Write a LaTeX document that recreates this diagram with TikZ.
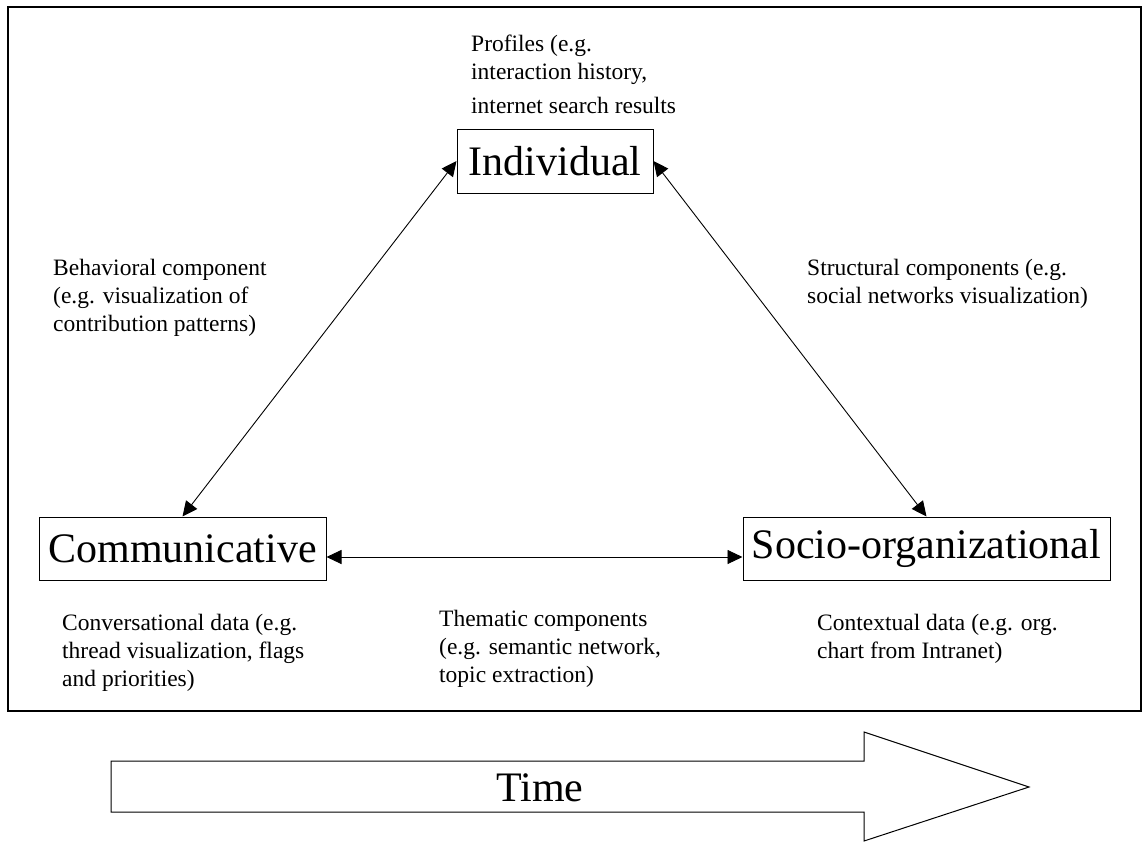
\documentclass[tikz,border=0pt]{standalone}
\usepackage{fontspec}
\setmainfont{Liberation Serif}
\usetikzlibrary{arrows.meta}
\begin{document}
\begin{tikzpicture}[x=1pt,y=-1pt,
  box/.style={draw, line width=1pt, inner sep=0pt, font=\fontsize{42}{48}\selectfont},
  lbl/.style={anchor=base west, align=left, inner sep=0pt, font=\fontsize{23.5}{28}\selectfont},
  conn/.style={line width=0.9pt, {Triangle[length=15pt,width=14pt]}-{Triangle[length=15pt,width=14pt]}}
]
\useasboundingbox (0,0) rectangle (1143,841);
\draw[line width=1.5pt] (8,7) rectangle (1141,711);
% main boxes
\node[box, minimum width=196pt, minimum height=64pt] (ind) at (555,161) {Individual};
\node[box, minimum width=287pt, minimum height=63pt] (com) at (182.5,548.5) {Communicative};
\node[box, minimum width=367pt, minimum height=63pt] (soc) at (926.5,548.5) {Socio-organizational};
% connectors
\draw[conn] (ind.west) -- (com.north);
\draw[conn] (ind.east) -- (soc.north);
\draw[conn] ([yshift=-8.5pt]com.east) -- ([yshift=-8.5pt]soc.west);
% labels (anchor = baseline of the last line)
\node[lbl] (prof) at (471,113) {Profiles (e.g.\\interaction history,\\[6pt]internet search results};
\node[lbl] (beh) at (53,331) {Behavioral component\\(e.g. visualization of\\contribution patterns)};
\node[lbl] (str) at (807,303) {Structural components (e.g.\\social networks visualization)};
\node[lbl] (conv) at (62,686) {Conversational data (e.g.\\thread visualization, flags\\and priorities)};
\node[lbl] (them) at (439,682) {Thematic components\\(e.g. semantic network,\\topic extraction)};
\node[lbl] (ctx) at (817,658) {Contextual data (e.g. org.\\chart from Intranet)};
% time arrow
\draw[line width=1pt, line join=miter] (111,761) -- (864,761) -- (864,732) -- (1029,787) -- (864,841) -- (864,812) -- (111,812) -- cycle;
\node[font=\fontsize{42}{48}\selectfont, inner sep=0pt] (time) at (540,788) {Time};
\end{tikzpicture}
\end{document}
